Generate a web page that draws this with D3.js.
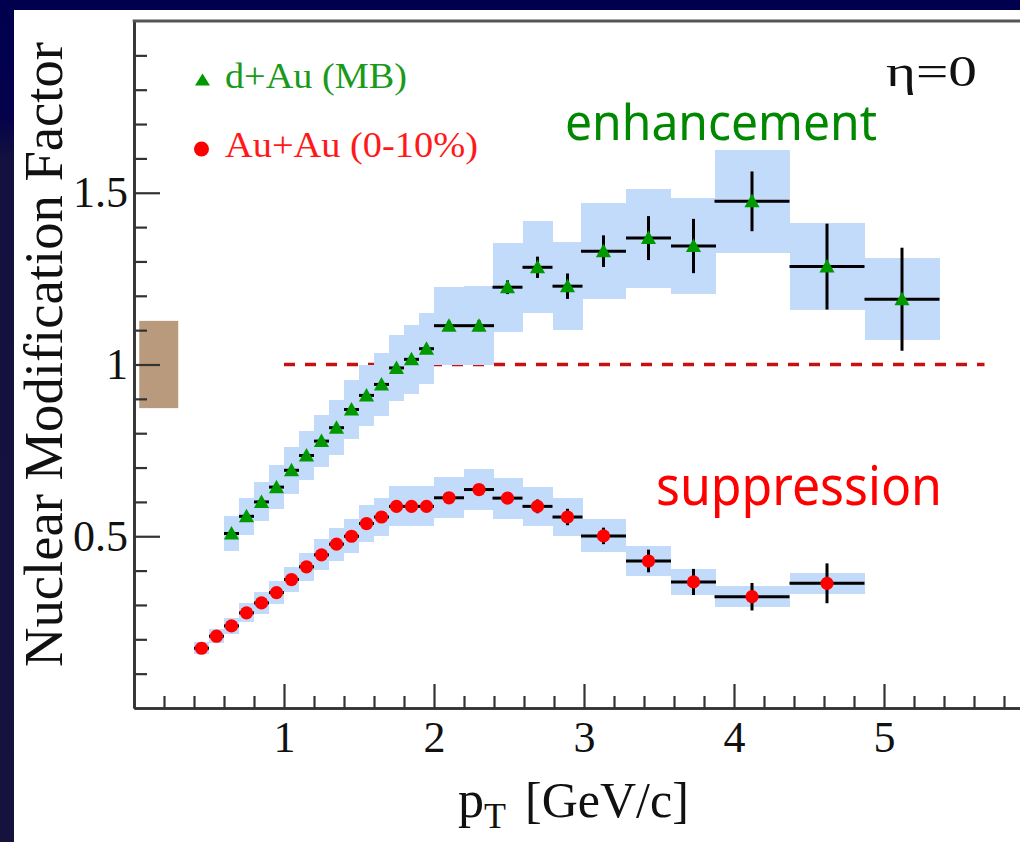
<!DOCTYPE html>
<html><head><meta charset="utf-8">
<script src="https://cdn.jsdelivr.net/npm/d3@7"></script>
<style>html,body{margin:0;padding:0;background:#0b0a45;} svg{display:block;}</style>
</head><body>
<svg id="chart" width="1020" height="842"></svg>
<script>
// ---- data ----
const auPt   = [0.45,0.55,0.65,0.75,0.85,0.95,1.05,1.15,1.25,1.35,1.45,1.55,1.65,1.75,1.85,1.95,2.1,2.3,2.49,2.69,2.89,3.13,3.43,3.73,4.12,4.62];
const auHalf = [0.05,0.05,0.05,0.05,0.05,0.05,0.05,0.05,0.05,0.05,0.05,0.05,0.05,0.05,0.05,0.05,0.1,0.1,0.1,0.1,0.1,0.15,0.15,0.15,0.25,0.25];
const auRaa  = [0.174,0.209,0.239,0.277,0.306,0.336,0.374,0.411,0.446,0.477,0.500,0.537,0.556,0.587,0.587,0.587,0.612,0.636,0.611,0.587,0.556,0.501,0.428,0.367,0.324,0.363];
const auStat = [0.004,0.004,0.004,0.005,0.005,0.005,0.005,0.006,0.006,0.006,0.007,0.007,0.008,0.008,0.009,0.009,0.01,0.011,0.012,0.02,0.024,0.024,0.033,0.038,0.04,0.058];
const auSys  = [0.017,0.021,0.024,0.028,0.031,0.034,0.037,0.041,0.045,0.048,0.05,0.054,0.056,0.058,0.058,0.058,0.06,0.06,0.06,0.057,0.055,0.048,0.043,0.037,0.03,0.031];

const daPt   = [0.65,0.75,0.85,0.95,1.05,1.15,1.25,1.35,1.45,1.55,1.65,1.75,1.85,1.95,2.1,2.3,2.49,2.69,2.89,3.13,3.43,3.73,4.12,4.62,5.12];
const daHalf = [0.05,0.05,0.05,0.05,0.05,0.05,0.05,0.05,0.05,0.05,0.05,0.05,0.05,0.05,0.1,0.1,0.1,0.1,0.1,0.15,0.15,0.15,0.25,0.25,0.25];
const daRaa  = [0.508,0.558,0.600,0.643,0.692,0.735,0.777,0.816,0.869,0.910,0.942,0.990,1.015,1.046,1.113,1.113,1.225,1.283,1.228,1.330,1.368,1.345,1.475,1.285,1.19];
const daStat = [0.008,0.008,0.008,0.009,0.009,0.009,0.01,0.01,0.01,0.011,0.011,0.012,0.012,0.013,0.014,0.016,0.02,0.031,0.037,0.046,0.064,0.079,0.087,0.125,0.15];
const daSys  = [0.051,0.053,0.057,0.065,0.069,0.072,0.075,0.08,0.085,0.089,0.092,0.097,0.1,0.104,0.113,0.115,0.13,0.134,0.128,0.139,0.144,0.14,0.15,0.127,0.12];

const normErr = 0.127;           // global normalisation uncertainty (brown box)
const normPtRange = [0.035, 0.295];
const unityRange = [1.0, 5.67];  // dashed line at R=1

const xTickValues = [1,2,3,4,5];
const xTickLabels = ["1","2","3","4","5"];
const yTickValues = [0.5,1,1.5];
const yTickLabels = ["0.5","1","1.5"];

const legendLabels = ["d+Au (MB)", "Au+Au (0-10%)"];

// ---- drawing ----
const svg = d3.select("#chart");
const W = 1020, H = 842;

const defs = svg.append("defs");
const grad = defs.append("linearGradient").attr("id","bg").attr("x1",0).attr("y1",0).attr("x2",0).attr("y2",1);
grad.append("stop").attr("offset","0%").attr("stop-color","#00004e");
grad.append("stop").attr("offset","14%").attr("stop-color","#05024c");
grad.append("stop").attr("offset","19%").attr("stop-color","#141140");
grad.append("stop").attr("offset","100%").attr("stop-color","#15123e");
svg.append("rect").attr("width",W).attr("height",H).attr("fill","url(#bg)");
svg.append("rect").attr("x",14).attr("y",10).attr("width",W-14).attr("height",H-10).attr("fill","#ffffff");

const x = d3.scaleLinear().domain([0,6]).range([134,1034]);
const y = d3.scaleLinear().domain([0,2]).range([708,21]);

const serif = "'Liberation Serif','Times New Roman',serif";
const comic = "'Comic Sans MS','Noto Sans',sans-serif";

// unity dashed line (under boxes)
svg.append("line")
  .attr("x1",x(unityRange[0])).attr("x2",x(unityRange[1]))
  .attr("y1",y(1)).attr("y2",y(1))
  .attr("stroke","#c81010").attr("stroke-width",3.5)
  .attr("stroke-dasharray","11,10");

// normalisation box
svg.append("rect")
  .attr("x",x(normPtRange[0])).attr("width",x(normPtRange[1])-x(normPtRange[0]))
  .attr("y",y(1+normErr)).attr("height",y(1-normErr)-y(1+normErr))
  .attr("fill","#b99a7d");

function series(pt, half, val, stat, sys){
  return pt.map((p,i)=>({p, h:half[i], v:val[i], st:stat[i], sy:sys[i]}));
}
const au = series(auPt, auHalf, auRaa, auStat, auSys);
const da = series(daPt, daHalf, daRaa, daStat, daSys);

const boxG = svg.append("g").attr("shape-rendering","crispEdges");
[au, da].forEach(s=>{
  boxG.selectAll(null).data(s).enter().append("rect")
    .attr("x",d=>x(d.p-d.h)).attr("width",d=>x(d.p+d.h)-x(d.p-d.h))
    .attr("y",d=>y(d.v+d.sy)).attr("height",d=>y(d.v-d.sy)-y(d.v+d.sy))
    .attr("fill","#c3dbfb");
});

// axes
const axG = svg.append("g");
const xMinor = d3.range(1,31).map(i=>i*0.2).filter(v=>Math.abs(v-Math.round(v))>1e-6);
const yMinor = d3.range(1,21).map(i=>i*0.1).filter(v=>Math.abs(v*2-Math.round(v*2))>1e-6);

axG.append("g").attr("transform",`translate(0,${y(0)})`)
  .call(d3.axisBottom(x).tickValues(xMinor).tickSize(-12).tickSizeOuter(0).tickFormat(""));
axG.append("g").attr("transform",`translate(0,${y(0)})`)
  .call(d3.axisBottom(x).tickValues(xTickValues.concat([6])).tickSize(-24).tickSizeOuter(0).tickPadding(13)
    .tickFormat((d,i)=> i < xTickLabels.length ? xTickLabels[i] : ""));
axG.append("g").attr("transform",`translate(${x(0)},0)`)
  .call(d3.axisLeft(y).tickValues(yMinor).tickSize(-13).tickSizeOuter(0).tickFormat(""));
axG.append("g").attr("transform",`translate(${x(0)},0)`)
  .call(d3.axisLeft(y).tickValues(yTickValues).tickSize(-26).tickSizeOuter(0).tickPadding(6)
    .tickFormat((d,i)=>yTickLabels[i]));

axG.selectAll(".domain").attr("stroke","#333").attr("stroke-width",2.6);
axG.selectAll(".tick line").attr("stroke","#333").attr("stroke-width",2.2);
axG.selectAll(".tick text").attr("font-family",serif).attr("font-size",44).attr("fill","#111");

// top frame line
svg.append("line").attr("x1",x(0)-1.3).attr("x2",W).attr("y1",y(2)).attr("y2",y(2))
  .attr("stroke","#555").attr("stroke-width",2.8);

// error bars
const errG = svg.append("g").attr("stroke","#000").attr("stroke-width",3);
[au, da].forEach(s=>{
  errG.selectAll(null).data(s).enter().append("line")
    .attr("x1",d=>x(d.p-d.h)).attr("x2",d=>x(d.p+d.h))
    .attr("y1",d=>y(d.v)).attr("y2",d=>y(d.v));
  errG.selectAll(null).data(s).enter().append("line")
    .attr("x1",d=>x(d.p)).attr("x2",d=>x(d.p))
    .attr("y1",d=>y(d.v-d.st)).attr("y2",d=>y(d.v+d.st));
});

// markers
const tri = "M0,-7.5L7.6,6L-7.6,6Z";
svg.append("g").selectAll("path").data(da).enter().append("path")
  .attr("d",tri).attr("transform",d=>`translate(${x(d.p)},${y(d.v)})`)
  .attr("fill","#009a00");
svg.append("g").selectAll("circle").data(au).enter().append("circle")
  .attr("cx",d=>x(d.p)).attr("cy",d=>y(d.v)).attr("r",6.6)
  .attr("fill","#ff0000");

// legend
svg.append("path").attr("d","M0,-6.5L7.5,5.5L-7.5,5.5Z").attr("transform","translate(202.5,80)").attr("fill","#009a00");
svg.append("text").attr("x",225).attr("y",88).attr("font-family",serif).attr("font-size",36)
  .attr("fill","#1a9a1a").attr("textLength",182).attr("lengthAdjust","spacingAndGlyphs").text(legendLabels[0]);
svg.append("circle").attr("cx",201.5).attr("cy",149).attr("r",7.5).attr("fill","#ff0000");
svg.append("text").attr("x",225).attr("y",157).attr("font-family",serif).attr("font-size",36)
  .attr("fill","#ff1a1a").attr("textLength",253).attr("lengthAdjust","spacingAndGlyphs").text(legendLabels[1]);

// eta = 0
svg.append("text").attr("x",886).attr("y",86).attr("font-family",serif).attr("font-size",44)
  .attr("fill","#111").attr("textLength",91).attr("lengthAdjust","spacingAndGlyphs").text("η=0");

// annotations
svg.append("text").attr("x",565).attr("y",140).attr("font-family",comic).attr("font-size",50)
  .attr("fill","#008800").attr("textLength",312).attr("lengthAdjust","spacingAndGlyphs").text("enhancement");
svg.append("text").attr("x",656).attr("y",505).attr("font-family",comic).attr("font-size",54)
  .attr("fill","#ff0000").attr("textLength",286).attr("lengthAdjust","spacingAndGlyphs").text("suppression");

// axis titles
svg.append("text").attr("transform","translate(62,354.5) rotate(-90)").attr("text-anchor","middle")
  .attr("font-family",serif).attr("font-size",55).attr("fill","#111")
  .attr("textLength",625).attr("lengthAdjust","spacingAndGlyphs").text("Nuclear Modification Factor");
const xt = svg.append("text").attr("x",458).attr("y",817).attr("font-family",serif).attr("fill","#111");
xt.append("tspan").attr("font-size",52).text("p");
xt.append("tspan").attr("font-size",36).attr("dy",11).text("T");
xt.append("tspan").attr("font-size",50).attr("x",525).attr("dy",-11).text("[GeV/c]");
</script>
</body></html>
